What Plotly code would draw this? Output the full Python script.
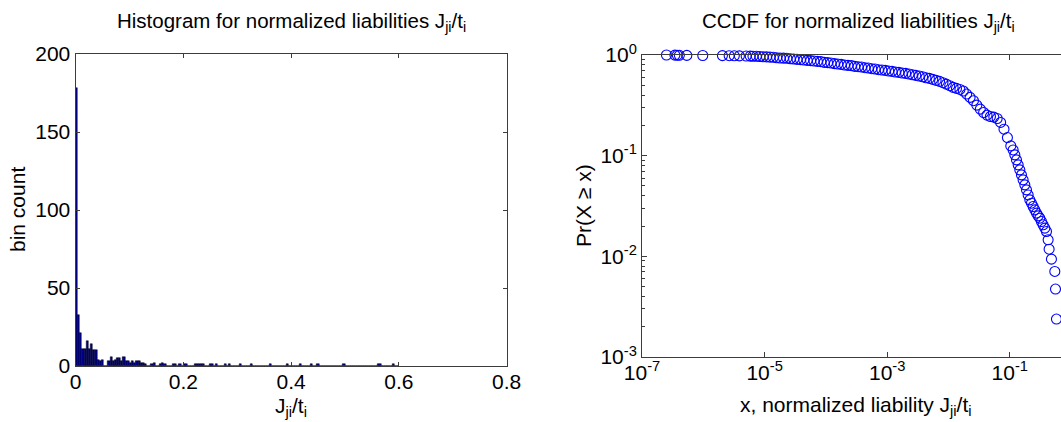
import numpy as np
import plotly.graph_objects as go

# ---------------- data ----------------
# Histogram of normalized liabilities (bins of width 0.004 starting at 0)
bin_width = 0.004
hist_counts = [
    178, 33, 21, 11, 11, 16, 11, 14, 10, 10, 4, 3, 4, 0, 0,
    3, 6, 3, 4, 5, 5, 3, 6, 3, 3, 2, 3, 2, 3, 3, 2, 2, 1, 0, 0,
    1, 2, 0, 0, 1, 2, 1, 0, 0, 0, 1, 1, 0, 1, 0, 1, 1, 0, 0, 0,
    1, 1, 1, 1, 1, 0, 0, 1, 1, 0, 1, 0, 0, 0, 1, 0, 1, 0, 0, 0,
    0, 1, 0, 0, 0, 0, 1, 0, 0, 0, 0, 0, 0, 0, 0, 1, 0, 0, 0, 0,
    0, 0, 0, 1, 0, 0, 0, 0, 0, 1, 0, 0, 0, 0, 1, 0, 0, 1, 0, 0,
    0, 0, 0, 0, 0, 0, 0, 0, 0, 1, 0, 0, 0, 0, 0, 0, 0, 0, 0, 0,
    0, 0, 0, 0, 0, 1, 1, 0, 0, 0, 0, 0, 1, 0, 0,
]
hist_xticks = [0, 0.2, 0.4, 0.6, 0.8]
hist_xticktext = ["0", "0.2", "0.4", "0.6", "0.8"]
hist_yticks = [0, 50, 100, 150, 200]

# CCDF points (log10 of x and of Pr(X >= x))
ccdf_log10_x = [
    -6.601, -6.463, -6.424, -6.391, -6.269, -6.009, -5.688, -5.578, -5.494,
    -5.411, -5.301, -5.234, -5.190,
    -5.135, -5.079, -5.024, -4.969, -4.913, -4.858, -4.803, -4.747, -4.692,
    -4.637, -4.581, -4.526, -4.471, -4.415, -4.360, -4.305, -4.249, -4.194,
    -4.139, -4.083, -4.028, -3.973, -3.917, -3.862, -3.807, -3.751, -3.696,
    -3.641, -3.585, -3.530, -3.475, -3.419, -3.364, -3.309, -3.253, -3.198,
    -3.143, -3.087, -3.032, -2.976, -2.921, -2.866, -2.810, -2.755, -2.700,
    -2.644, -2.589, -2.534, -2.478, -2.423, -2.368, -2.312, -2.257, -2.202,
    -2.146, -2.091, -2.036, -1.980, -1.925, -1.870, -1.814, -1.759, -1.704,
    -1.648, -1.593, -1.538, -1.482, -1.427, -1.372, -1.316, -1.261, -1.206,
    -1.150, -1.095, -1.039, -0.984,
    -0.946, -0.918, -0.891, -0.864, -0.837, -0.810, -0.783, -0.755, -0.728,
    -0.701, -0.674, -0.647, -0.620, -0.592, -0.565, -0.538, -0.511, -0.484,
    -0.457, -0.429, -0.402, -0.375, -0.359, -0.321, -0.266, -0.255, -0.239,
]
ccdf_log10_y = [
    0.000, -0.001, -0.002, -0.003, -0.004, -0.005, -0.006, -0.007, -0.008,
    -0.009, -0.010, -0.011, -0.012,
    -0.013, -0.015, -0.017, -0.019, -0.021, -0.023, -0.027, -0.030, -0.031,
    -0.033, -0.037, -0.040, -0.043, -0.046, -0.050, -0.053, -0.056, -0.060,
    -0.063, -0.066, -0.073, -0.076, -0.080, -0.086, -0.090, -0.093, -0.100,
    -0.103, -0.106, -0.113, -0.116, -0.119, -0.126, -0.129, -0.136, -0.139,
    -0.146, -0.149, -0.153, -0.159, -0.163, -0.169, -0.173, -0.179, -0.183,
    -0.189, -0.196, -0.202, -0.209, -0.216, -0.226, -0.232, -0.242, -0.252,
    -0.262, -0.275, -0.289, -0.305, -0.322, -0.332, -0.342, -0.358, -0.388,
    -0.421, -0.454, -0.498, -0.538, -0.571, -0.597, -0.611, -0.617, -0.631,
    -0.670, -0.737, -0.820, -0.903,
    -0.943, -0.992, -1.042, -1.091, -1.141, -1.191, -1.240, -1.290, -1.340,
    -1.390, -1.439, -1.472, -1.505, -1.538, -1.571, -1.598, -1.621, -1.654,
    -1.687, -1.720, -1.753, -1.836, -1.929, -2.028, -2.150, -2.325, -2.623,
]
ccdf_xticks = [1e-7, 1e-5, 1e-3, 1e-1]
ccdf_xticktext = ["10<sup>-7</sup>", "10<sup>-5</sup>", "10<sup>-3</sup>", "10<sup>-1</sup>"]
ccdf_yticks = [1e-3, 1e-2, 1e-1, 1]
ccdf_yticktext = ["10<sup>-3</sup>", "10<sup>-2</sup>", "10<sup>-1</sup>", "10<sup>0</sup>"]

# ---------------- figure ----------------
W, H = 1061, 422
FONT = "Liberation Sans, Arial, sans-serif"
FS = 21
AXC = "#3c3c3c"


def px_x(p):
    return p / W


def px_y(p):
    return 1 - p / H


bin_centers = [(k + 0.5) * bin_width for k in range(len(hist_counts))]
ccdf_x = np.power(10.0, np.array(ccdf_log10_x))
ccdf_y = np.power(10.0, np.array(ccdf_log10_y))

fig = go.Figure()
fig.add_trace(go.Bar(
    x=bin_centers, y=hist_counts, width=bin_width,
    marker=dict(color="#00008F", line=dict(color="black", width=0.5)),
    xaxis="x", yaxis="y", showlegend=False, hoverinfo="skip",
))
fig.add_trace(go.Scatter(
    x=ccdf_x, y=ccdf_y, mode="markers",
    marker=dict(symbol="circle-open", size=10, color="#0000FF",
                line=dict(width=1.1, color="#0000FF")),
    xaxis="x2", yaxis="y2", showlegend=False, cliponaxis=False,
    hoverinfo="skip",
))

common = dict(showgrid=False, zeroline=False, showline=True, linecolor=AXC,
              linewidth=1, ticks="inside", tickcolor=AXC, automargin=False,
              tickfont=dict(family=FONT, size=FS, color="black"))

fig.update_layout(
    width=W, height=H,
    margin=dict(l=0, r=0, t=0, b=0, pad=0, autoexpand=False),
    paper_bgcolor="white", plot_bgcolor="white",
    bargap=0,
    xaxis=dict(domain=[px_x(75.5), px_x(506.7)], range=[0, 0.8],
               tickvals=hist_xticks, ticktext=hist_xticktext,
               mirror="ticks", ticklen=4, anchor="y",
               ticklabelstandoff=-3, **common),
    yaxis=dict(domain=[px_y(366), px_y(54)], range=[0, 200],
               tickvals=hist_yticks, mirror="ticks", ticklen=4,
               anchor="x", **common),
    xaxis2=dict(type="log", domain=[px_x(642), 1.0], range=[-7, -0.165],
                tickvals=ccdf_xticks, ticktext=ccdf_xticktext,
                mirror="ticks", ticklen=5, anchor="y2",
                ticklabelstandoff=-3, **common),
    yaxis2=dict(type="log", domain=[px_y(357), px_y(55)], range=[-3, 0],
                tickvals=ccdf_yticks, ticktext=ccdf_yticktext,
                mirror=False, ticklen=5, anchor="x2",
                minor=dict(ticks="inside", ticklen=3, tickcolor=AXC, dtick="D1",
                           showgrid=False),
                **common),
)

texts = [
    (291, 22, "Histogram for normalized liabilities J<sub>ji</sub>/t<sub>i</sub>", 0, 20.5),
    (858, 22, "CCDF for normalized liabilities J<sub>ji</sub>/t<sub>i</sub>", 0, 20.5),
    (291, 407, "J<sub>ji</sub>/t<sub>i</sub>", 0, FS),
    (856, 406, "x, normalized liability J<sub>ji</sub>/t<sub>i</sub>", 0, FS),
    (18, 210, "bin count", -90, FS),
    (583, 206, "Pr(X \u2265 x)", -90, FS),
]
for x, y, t, ang, fs in texts:
    fig.add_annotation(x=px_x(x), y=px_y(y), xref="paper", yref="paper",
                       text=t, showarrow=False, textangle=ang,
                       xanchor="center", yanchor="middle",
                       font=dict(family=FONT, size=fs, color="black"))

fig.write_html(
    "out.html",
    config={"displayModeBar": False},
    post_script="document.body.style.margin='0px';document.body.style.overflow='hidden';",
)
